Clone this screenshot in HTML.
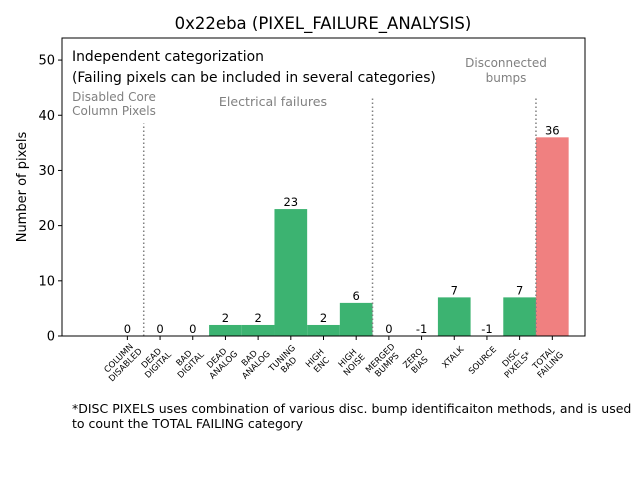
<!DOCTYPE html>
<html><head><meta charset="utf-8"><style>
body{margin:0;background:#fff;}
svg text{font-family:"DejaVu Sans","Liberation Sans",sans-serif;}
</style></head><body>
<svg id="chart" width="640" height="480" viewBox="0 0 640 480" xmlns="http://www.w3.org/2000/svg">
<rect width="640" height="480" fill="#fff"/>
<text x="323" y="29" font-size="16.5" text-anchor="middle">0x22eba (PIXEL_FAILURE_ANALYSIS)</text>
<defs><clipPath id="plotclip"><rect x="62" y="38" width="523" height="298"/></clipPath></defs>
<g id="bars" clip-path="url(#plotclip)"></g>
<g id="vlines"></g>
<g id="labels"></g>
<rect x="62" y="38" width="523" height="298" fill="none" stroke="#000" stroke-width="1"/>
<g id="yaxis"></g>
<g id="xaxis"></g>
<text transform="translate(26,187) rotate(-90)" font-size="13" text-anchor="middle">Number of pixels</text>
<text x="72" y="61" font-size="13.9">Independent categorization</text>
<text x="72" y="82" font-size="13.9">(Failing pixels can be included in several categories)</text>
<text x="114" y="101" font-size="12" fill="#808080" text-anchor="middle">Disabled Core</text>
<text x="114" y="115" font-size="12" fill="#808080" text-anchor="middle">Column Pixels</text>
<text x="273" y="106" font-size="12.6" fill="#808080" text-anchor="middle">Electrical failures</text>
<text x="506" y="67" font-size="12" fill="#808080" text-anchor="middle">Disconnected</text>
<text x="506" y="82" font-size="12" fill="#808080" text-anchor="middle">bumps</text>
<text x="72" y="413" font-size="12.5">*DISC PIXELS uses combination of various disc. bump identificaiton methods, and is used</text>
<text x="72" y="428" font-size="12.5">to count the TOTAL FAILING category</text>
</svg>
<script>
const categories = [["COLUMN","DISABLED"],["DEAD","DIGITAL"],["BAD","DIGITAL"],["DEAD","ANALOG"],["BAD","ANALOG"],["TUNING","BAD"],["HIGH","ENC"],["HIGH","NOISE"],["MERGED","BUMPS"],["ZERO","BIAS"],["XTALK"],["SOURCE"],["DISC","PIXELS*"],["TOTAL","FAILING"]];
const values = [0,0,0,2,2,23,2,6,0,-1,7,-1,7,36];
const yTicks = [0,10,20,30,40,50];
const separators = [0.5, 7.5, 12.5];
const separatorTops = [38.5, 43.3, 43.3];
const NS = "http://www.w3.org/2000/svg";
const X0=62, X1=585, Y0=336, Y1=38, XMIN=-2, XMAX=14, YMAX=54;
function xs(v){return X0+(v-XMIN)/(XMAX-XMIN)*(X1-X0);}
function ys(v){return Y0-v/YMAX*(Y0-Y1);}
function mk(tag,attrs,parent){const e=document.createElementNS(NS,tag);for(const k in attrs)e.setAttribute(k,attrs[k]);parent.appendChild(e);return e;}
const gb=document.getElementById('bars'),gl=document.getElementById('labels'),gv=document.getElementById('vlines'),gy=document.getElementById('yaxis'),gx=document.getElementById('xaxis');
const w=xs(1)-xs(0);
values.forEach((v,i)=>{
  const top=ys(Math.max(v,0)), bot=ys(Math.min(v,0));
  const color = i===categories.length-1 ? "#f08080" : "#3cb371";
  const r=mk('rect',{x:xs(i)-w/2,y:top,width:w,height:Math.max(bot-top,0),fill:color},gb);
  
  
  const t=mk('text',{x:xs(i),y:ys(Math.max(v,0))-3,'font-size':11.5,'text-anchor':'middle'},gl);
  t.textContent=v;
  
  
  const tk=mk('line',{x1:xs(i),x2:xs(i),y1:Y0,y2:Y0+4,stroke:'#000'},gx);
  
  
  const lab=categories[i];
  const g=mk('g',{transform:`translate(${xs(i)+7},${Y0+11}) rotate(-45)`},gx);
  
  
  lab.forEach((s,j)=>{
    const tt=mk('text',{x:0,y:(j-(lab.length-1))*9.5+(lab.length===1?4:9),'font-size':8.5,'text-anchor':lab.length===1?'end':'middle'},g);
    if(lab.length>1){tt.setAttribute('x',-19);}
    tt.textContent=s;
  });
});
separators.forEach((s,i)=>{
  const l=mk('line',{x1:xs(s),x2:xs(s),y1:Y0,y2:ys(separatorTops[i]),stroke:'#808080','stroke-width':1.5,'stroke-dasharray':'1.5,2.5'},gv);
  
  
});
yTicks.forEach(t=>{
  const l=mk('line',{x1:X0-4,x2:X0,y1:ys(t),y2:ys(t),stroke:'#000'},gy);
  
  
  const tx=mk('text',{x:X0-7,y:ys(t)+4.5,'font-size':13,'text-anchor':'end'},gy);
  tx.textContent=t;
  
  
});
</script>
</body></html>
